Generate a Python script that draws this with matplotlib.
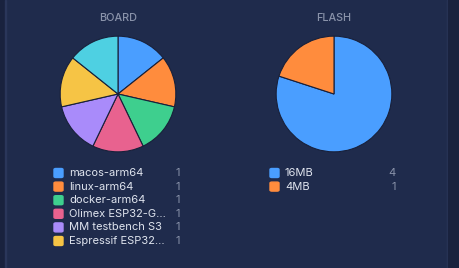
import matplotlib
matplotlib.use("Agg")
import matplotlib.pyplot as plt
from matplotlib.patches import FancyBboxPatch, Rectangle

plt.rcParams['font.family'] = ['Inter', 'DejaVu Sans']

W, H = 460, 268
BG = '#1f2b4c'
EDGE = '#18203a'

board_labels = ['macos-arm64', 'linux-arm64', 'docker-arm64', 'Olimex ESP32-G...',
                'MM testbench S3', 'Espressif ESP32...', 'Other']
board_values = [1, 1, 1, 1, 1, 1, 1]
board_colors = ['#4a9eff', '#ff8c3d', '#3ecf8e', '#e8628f', '#a98bfa', '#f6c445', '#4ed0e2']

flash_labels = ['16MB', '4MB']
flash_values = [4, 1]
flash_colors = ['#4a9eff', '#ff8c3d']

fig = plt.figure(figsize=(W / 100, H / 100), dpi=100)
fig.patch.set_facecolor(BG)

def px_axes(cx, cy, r):
    return fig.add_axes([(cx - r) / W, 1 - (cy + r) / H, 2 * r / W, 2 * r / H])

# side strips
fig.patches.append(Rectangle((0, 0), 5 / W, 1, transform=fig.transFigure, color='#19223e', zorder=0))
fig.patches.append(Rectangle((5 / W, 0), 1 / W, 1, transform=fig.transFigure, color='#2a365a', zorder=0))
fig.patches.append(Rectangle((447 / W, 0), 1 / W, 1, transform=fig.transFigure, color='#2a365a', zorder=0))
fig.patches.append(Rectangle((448 / W, 0), 12 / W, 1, transform=fig.transFigure, color='#19223e', zorder=0))

def draw_pie(cx, cy, r, values, colors, title):
    ax = px_axes(cx, cy, r + 1)
    ax.pie(values, colors=colors, startangle=90, counterclock=False, radius=1,
           wedgeprops=dict(edgecolor=EDGE, linewidth=0.8))
    ax.set_xlim(-1.02, 1.02)
    ax.set_ylim(-1.02, 1.02)
    ax.set_aspect('equal')
    ax.axis('off')
    fig.text(cx / W, 1 - 18 / H, title, ha='center', va='center', color='#8a93aa',
             fontsize=7.8, fontweight='medium')

def draw_legend(x_sq, x_cnt, labels, values, colors, n):
    for i in range(min(n, len(labels))):
        y = 173 + i * 13.6
        fig.patches.append(FancyBboxPatch(((x_sq) / W, 1 - (y + 4.5) / H), 9 / W, 9 / H,
                                          boxstyle='round,pad=0,rounding_size=0.004',
                                          transform=fig.transFigure, color=colors[i], zorder=2))
        fig.text((x_sq + 15) / W, 1 - y / H, labels[i], ha='left', va='center',
                 color='#dfe4ee', fontsize=8)
        fig.text(x_cnt / W, 1 - y / H, str(values[i]), ha='right', va='center',
                 color='#8a93aa', fontsize=8)

draw_pie(118, 94, 58, board_values, board_colors, 'BOARD')
draw_pie(334, 94, 58, flash_values, flash_colors, 'FLASH')
draw_legend(54, 180, board_labels, board_values, board_colors, 6)
draw_legend(270, 396, flash_labels, flash_values, flash_colors, 2)

fig.savefig('out.png', dpi=100, facecolor=BG)
